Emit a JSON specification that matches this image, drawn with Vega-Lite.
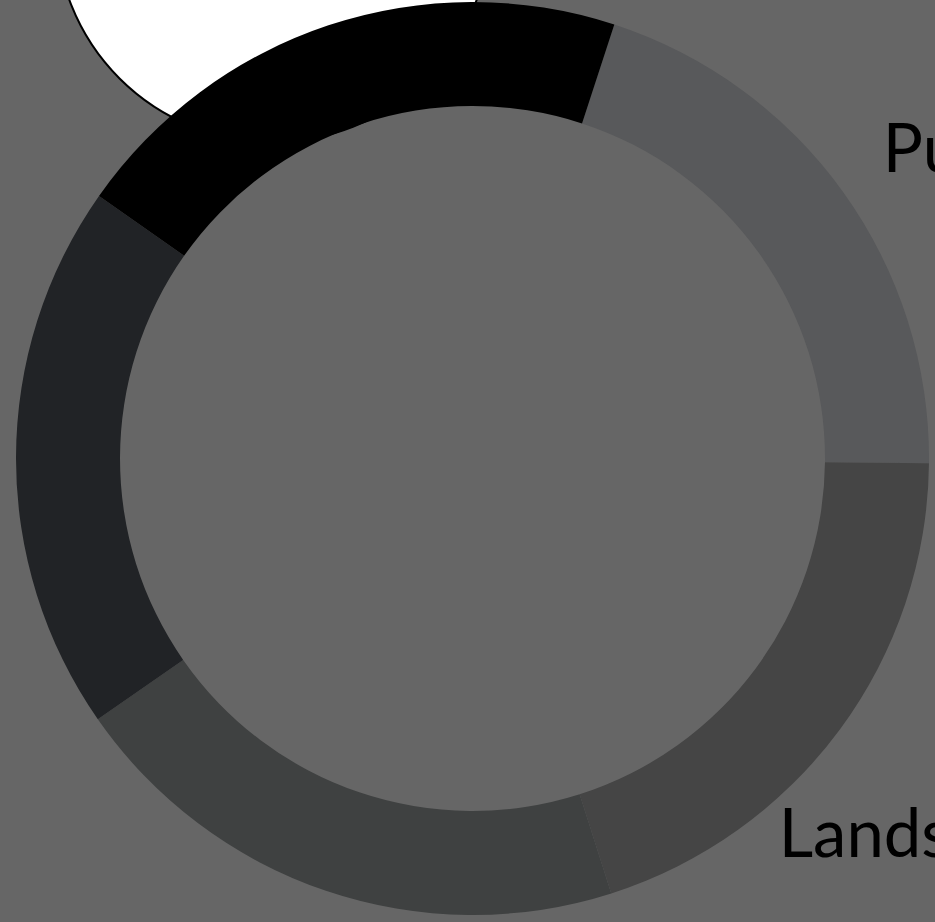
{
  "$schema": "https://vega.github.io/schema/vega-lite/v6.json",
  "width": 925,
  "height": 917,
  "autosize": {"type": "none"},
  "padding": {"left": 10, "top": 0, "right": 0, "bottom": 5},
  "background": "#666666",
  "view": {"stroke": null},
  "config": {"text": {"font": "Lato"}},
  "data": {
    "values": [
      {"idx": 1, "cat": "Pu", "value": 20.14},
      {"idx": 2, "cat": "Lands", "value": 19.92},
      {"idx": 3, "cat": "C", "value": 20.24},
      {"idx": 4, "cat": "D", "value": 19.43},
      {"idx": 5, "cat": "E", "value": 20.28}
    ]
  },
  "layer": [
    {
      "data": {"values": [{"item": "bubble"}]},
      "mark": {"type": "arc", "theta": 0, "theta2": 6.2832, "radius": 217, "fill": "#ffffff", "stroke": "#000000", "strokeWidth": 2},
      "encoding": {"x": {"value": 263}, "y": {"value": -75}}
    },
    {
      "mark": {"type": "arc", "outerRadius": 456.5, "innerRadius": 352.5},
      "encoding": {
        "theta": {"field": "value", "type": "quantitative", "stack": true, "scale": {"range": [0.3159, 6.5991]}},
        "order": {"field": "idx", "type": "quantitative"},
        "color": {
          "field": "cat",
          "type": "nominal",
          "scale": {"domain": ["Pu", "Lands", "C", "D", "E"], "range": ["#58595b", "#454545", "#3f4141", "#212326", "#000000"]},
          "legend": null
        }
      }
    },
    {
      "mark": {"type": "text", "radius": 505, "align": "left", "baseline": "alphabetic", "dy": 8, "fontSize": 67, "color": "#000000"},
      "encoding": {
        "theta": {"field": "value", "type": "quantitative", "stack": true},
        "order": {"field": "idx", "type": "quantitative"},
        "text": {"condition": {"test": "datum.cat === 'Pu'", "field": "cat", "type": "nominal"}, "value": ""}
      }
    },
    {
      "mark": {"type": "text", "radius": 505, "align": "left", "baseline": "alphabetic", "dx": -100, "dy": 98, "fontSize": 67, "color": "#000000"},
      "encoding": {
        "theta": {"field": "value", "type": "quantitative", "stack": true},
        "order": {"field": "idx", "type": "quantitative"},
        "text": {"condition": {"test": "datum.cat === 'Lands'", "field": "cat", "type": "nominal"}, "value": ""}
      }
    }
  ]
}
